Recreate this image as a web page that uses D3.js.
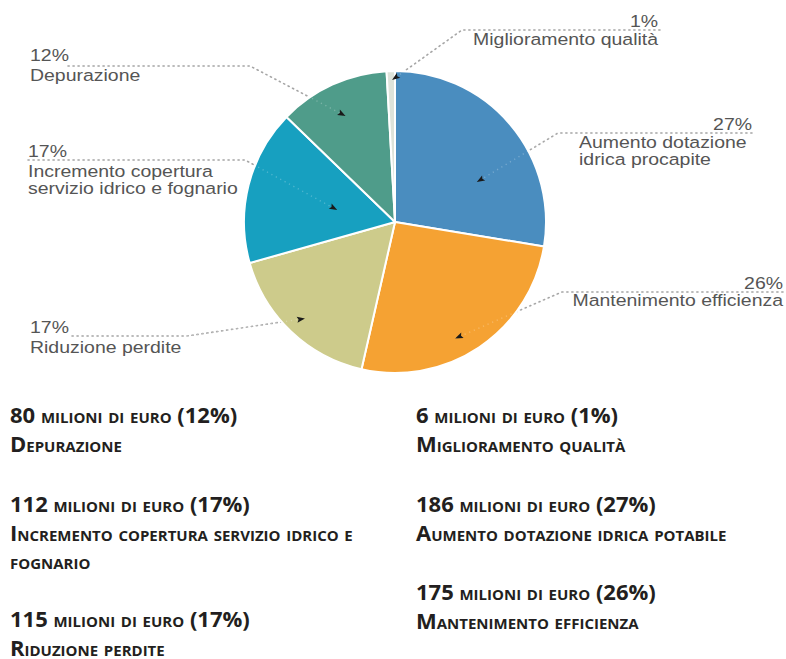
<!DOCTYPE html>
<html>
<head>
<meta charset="utf-8">
<script src="https://cdn.jsdelivr.net/npm/d3@7"></script>
<style>
  body { margin: 0; background: #fff; }
  .lbl { font-family: "Liberation Sans", Arial, sans-serif; font-size: 16.5px; fill: #555; }
  .cap { font-family: "Open Sans", sans-serif; font-weight: 700; font-size: 22px; fill: #231f20; font-variant: small-caps; }
</style>
</head>
<body>
<div id="chart"></div>
<script>
// slices, clockwise from 12 o'clock
const categories = ["Aumento dotazione idrica procapite", "Mantenimento efficienza", "Riduzione perdite",
  "Incremento copertura servizio idrico e fognario", "Depurazione", "Miglioramento qualità"];
const amounts = [186, 175, 115, 112, 80, 6];        // milioni di euro
const shares = [27, 26, 17, 17, 12, 1];             // %
const colors = ["#4a8dbf", "#f5a233", "#cdcb8b", "#17a0c0", "#4f9c8a", "#dee3da"];

// caption titles under the pie ("|" = line break)
const captionTitles = ["Aumento dotazione idrica potabile", "Mantenimento efficienza", "Riduzione perdite",
  "Incremento copertura servizio idrico e|fognario", "Depurazione", "Miglioramento qualità"];

const width = 786, height = 659;
const cx = 395, cy = 222, radius = 151;

const svg = d3.select("#chart").append("svg")
  .attr("width", width).attr("height", height)

svg.append("rect").attr("width", width).attr("height", height).attr("fill", "#fff")

// label layout: text lines, leader start + elbow, arrow (angle deg, radius)
const labelLayout = [
  { pct: [752, 130, "end"], text: [[579, 148], [579, 165]], anchor: "start", lines: ["Aumento dotazione", "idrica procapite"],
    leader: [[752, 133], [558, 133]], arrow: [64, 91] },
  { pct: [783, 289, "end"], text: [[783, 306]], anchor: "end", lines: ["Mantenimento efficienza"],
    leader: [[783, 292], [562, 292]], arrow: [152.7, 131] },
  { pct: [30, 333, "start"], text: [[30, 353]], anchor: "start", lines: ["Riduzione perdite"],
    leader: [[72, 336], [187, 336]], arrow: [223, 132] },
  { pct: [28, 157, "start"], text: [[28, 177], [28, 194]], anchor: "start", lines: ["Incremento copertura", "servizio idrico e fognario"],
    leader: [[28, 160], [245, 160]], arrow: [281.7, 59] },
  { pct: [30, 61, "start"], text: [[30, 81]], anchor: "start", lines: ["Depurazione"],
    leader: [[68, 66], [250, 66]], arrow: [335, 117] },
  { pct: [658, 27, "end"], text: [[658, 45]], anchor: "end", lines: ["Miglioramento qualità"],
    leader: [[660, 30], [462, 30]], arrow: [358.8, 142] }
]

const toRad = d3.scaleLinear().domain([0, 360]).range([0, 2 * Math.PI])
const arrowPt = a => {
  let p = d3.pointRadial(toRad(a[0]), a[1])
  return [cx + p[0], cy + p[1]]
}

let line = d3.line()

// leaders under the pie
let g = svg.append("g")
labelLayout.forEach(d => {
  g.append("path")
    .attr("d", line(d.leader.concat([arrowPt(d.arrow)])))
    .attr("fill", "none")
    .attr("stroke", "#a5a5a5")
    .attr("stroke-width", 1.6)
    .attr("stroke-dasharray", "1.2,3.8")
    .attr("stroke-linecap", "round")
})

let pie = d3.pie().sort(null).value(d => d)
let arc = d3.arc().innerRadius(0).outerRadius(radius)

let pieG = svg.append("g").attr("transform", `translate(${cx},${cy})`)
pieG.selectAll("path")
  .data(pie(amounts))
  .enter().append("path")
  .attr("d", arc)
  .attr("fill", (d, i) => colors[i])
  .attr("stroke", "#fff")
  .attr("stroke-width", 2)
  .attr("stroke-linejoin", "round")

// faint leader continuation inside the slices + arrowheads
labelLayout.forEach(d => {
  let e = d.leader[1], p = arrowPt(d.arrow)
  svg.append("path")
    .attr("d", line([e, p]))
    .attr("stroke", "#fff")
    .attr("stroke-opacity", 0.25)
    .attr("stroke-width", 1.4)
    .attr("stroke-dasharray", "1.2,3.8")
  let ang = Math.atan2(p[1] - e[1], p[0] - e[0]) * 180 / Math.PI
  svg.append("path")
    .attr("d", "M0,0 L-8,-3 L-6.5,0 L-8,3 Z")
    .attr("transform", `translate(${p[0]},${p[1]}) rotate(${ang})`)
    .attr("fill", "#1a1a1a")
})

// labels around the pie
labelLayout.forEach((d, i) => {
  svg.append("text")
    .attr("class", "lbl")
    .attr("transform", `translate(${d.pct[0]},${d.pct[1]}) scale(1.18,1)`)
    .attr("text-anchor", d.pct[2])
    .text(shares[i] + "%")
  d.lines.forEach((t, j) => {
    svg.append("text")
      .attr("class", "lbl")
      .attr("transform", `translate(${d.text[j][0]},${d.text[j][1]}) scale(1.18,1)`)
      .attr("text-anchor", d.anchor)
      .text(t)
  })
})

// captions below
const captionLayout = [[416, 512], [416, 600], [10, 627], [10, 512], [10, 423], [416, 423]]
const lineGap = 28.5

captionLayout.forEach((pos, i) => {
  let t = svg.append("text").attr("class", "cap").attr("x", pos[0]).attr("y", pos[1])
  t.append("tspan").text(amounts[i])
  t.append("tspan").text(" milioni di euro ")
  t.append("tspan").text("(" + shares[i] + "%)")
  captionTitles[i].split("|").forEach((s, j) => {
    let first = j === 0
    svg.append("text").attr("class", "cap")
      .attr("x", pos[0]).attr("y", pos[1] + lineGap * (j + 1))
      .text(first ? s.charAt(0) + s.slice(1).toLowerCase() : s.toLowerCase())
  })
})
</script>
</body>
</html>
